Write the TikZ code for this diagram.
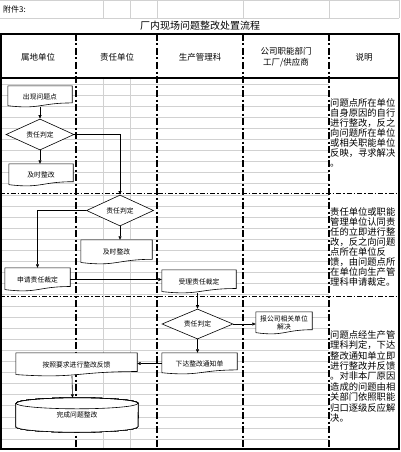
\documentclass[tikz,border=0pt]{standalone}
\usepackage{fontspec}
\setmainfont{Noto Sans CJK SC}
\usepackage{tikz}
\usetikzlibrary{shapes.geometric,arrows.meta,calc}
\pgfdeclarelayer{grid}
\pgfdeclarelayer{box}
\pgfsetlayers{grid,box,main}
\newcommand{\docpath}[1]{%
  \draw[fill=white, line width=0.6pt] (#1.north west) -- (#1.north east)
    -- ($(#1.north east)!0.8!(#1.south east)$)
    .. controls ($(#1.north)!0.8!(#1.south)$) and ($(#1.north)!1.11!(#1.south)$)
    .. ($(#1.north west)!0.93!(#1.south west)$) -- cycle;}
\begin{document}
\begin{tikzpicture}[x=1pt, y=1pt,
  gridline/.style={draw=black!18, line width=0.5pt},
  lane/.style={line width=1.6pt, dash pattern=on 7pt off 2.5pt on 2pt off 2.5pt},
  phase/.style={line width=0.7pt, dash pattern=on 5pt off 2pt on 1.5pt off 2pt},
  docbox/.style={rectangle, inner sep=0pt, align=center,
                 font=\fontsize{6.8pt}{8pt}\selectfont},
  judge/.style={diamond, aspect=2, draw, fill=white, line width=0.6pt,
                inner sep=0pt, font=\fontsize{6.8pt}{8pt}\selectfont},
  note/.style={anchor=north west, inner sep=0pt, align=left,
               font=\fontsize{9.3pt}{10pt}\selectfont},
  head/.style={align=center, font=\fontsize{8.5pt}{11pt}\selectfont},
  arr/.style={-{Triangle[length=3.5pt,width=3pt]}, line width=0.6pt}]
  \useasboundingbox (0,0) rectangle (401,-452);
  \begin{pgfonlayer}{grid}
    \draw[gridline] (0,-0.5) -- (399,-0.5);
    \draw[gridline] (0,-18) -- (399,-18);
    \foreach \x in {103,130,157,243,329,399}
      \draw[gridline] (\x,-0.5) -- (\x,-18);
    \foreach \k in {0,...,32}
      \draw[gridline] (0,-83.8-11.1*\k) -- (329,-83.8-11.1*\k);
    \foreach \x in {103,130}
      \draw[gridline] (\x,-78) -- (\x,-449);
    \foreach \x in {76,157,243,329}
      \draw[lane] (\x,-34) -- (\x,-449);
    \draw[phase] (0,-193) -- (399,-193);
    \draw[phase] (0,-296) -- (399,-296);
    \draw[line width=1.6pt] (0.8,-34) rectangle (399.2,-449.2);
    \draw[line width=1.6pt] (0,-78) -- (399,-78);
  \end{pgfonlayer}
  \node[anchor=west, inner sep=0pt, font=\fontsize{8pt}{9pt}\selectfont] (t0) at (3,-9) {附件3:};
  \node[font=\fontsize{10pt}{12pt}\selectfont] (t1) at (200,-25.5) {厂内现场问题整改处置流程};
  \node[head] (h1) at (38,-57) {属地单位};
  \node[head] (h2) at (117,-57) {责任单位};
  \node[head] (h3) at (200,-57) {生产管理科};
  \node[head] (h4) at (286,-57) {公司职能部门\\工厂/供应商};
  \node[head] (h5) at (364,-57) {说明};
  \node[docbox, minimum width=64pt, minimum height=21pt] (n1) at (40,-96.5) {出现问题点};
  \node[judge, minimum width=68pt, minimum height=31pt] (d1) at (40,-134.5) {责任判定};
  \node[docbox, minimum width=64pt, minimum height=22pt] (n2) at (41,-175) {及时整改};
  \node[judge, minimum width=67pt, minimum height=31pt] (d2) at (120,-210.5) {责任判定};
  \node[docbox, minimum width=71pt, minimum height=24pt] (n3) at (116.5,-252) {及时整改};
  \node[docbox, minimum width=65pt, minimum height=23pt] (n4) at (37.5,-279.5) {申请责任裁定};
  \node[docbox, minimum width=74pt, minimum height=23pt] (n5) at (199,-281.5) {受理责任裁定};
  \node[judge, minimum width=71pt, minimum height=30pt] (d3) at (197.5,-324) {责任判定};
  \node[docbox, minimum width=56pt, minimum height=22pt] (n6) at (284,-323) {报公司相关单位\\解决};
  \node[docbox, minimum width=75pt, minimum height=21pt] (n7) at (199.5,-363.5) {下达整改通知单};
  \node[docbox, minimum width=121pt, minimum height=23pt] (n8) at (76.5,-364.5) {按照要求进行整改反馈};
  \node[docbox, minimum width=122pt, minimum height=34pt] (c1) at (77,-415) {完成问题整改};
  \begin{pgfonlayer}{box}
    \foreach \i in {1,...,8}
      \docpath{n\i}
    \draw[fill=white, line width=0.6pt] ([yshift=-5.5pt]c1.north west) -- ([yshift=5.5pt]c1.south west)
      arc[start angle=180, end angle=360, x radius=61pt, y radius=5.5pt]
      -- ([yshift=-5.5pt]c1.north east)
      arc[start angle=0, end angle=180, x radius=61pt, y radius=5.5pt] -- cycle;
    \draw[line width=0.6pt] ([yshift=-5.5pt]c1.north) ellipse[x radius=61pt, y radius=5.5pt];
  \end{pgfonlayer}
  \node[note] (e1) at (330,-98.3) {问题点所在单位\\自身原因的自行\\进行整改，反之\\向问题所在单位\\或相关职能单位\\反映，寻求解决\\。};
  \node[note] (e2) at (330,-207.3) {责任单位或职能\\管理单位认同责\\任的立即进行整\\改，反之向问题\\点所在单位反\\馈，由问题点所\\在单位向生产管\\理科申请裁定。};
  \node[note, font=\fontsize{9.3pt}{10.4pt}\selectfont] (e3) at (330,-330.3) {问题点经生产管\\理科判定，下达\\整改通知单立即\\进行整改并反馈\\。对非本厂原因\\造成的问题由相\\关部门依照职能\\归口逐级反应解\\决。};
  \draw[arr] (n1.south) -- (d1.north);
  \draw[arr] (d1.south) -- (d1.south |- n2.north);
  \draw[arr] (d1.east) -| (d2.north);
  \draw[arr] (d2.west) -| (n4.north);
  \draw[arr] (d2.south) -- (d2.south |- n3.north);
  \draw[arr] (n4.east) -- (n4.east -| n5.west);
  \draw[arr] (d3.north |- n5.south) -- (d3.north);
  \draw[arr] (d3.east) -- (d3.east -| n6.west);
  \draw[arr] (d3.south) -- (d3.south |- n7.north);
  \draw[arr] (n7.west) -- (n7.west -| n8.east);
  \draw[arr] ([xshift=-4.5pt]n8.south) -- ([xshift=-4.5pt]c1.north);
\end{tikzpicture}
\end{document}
